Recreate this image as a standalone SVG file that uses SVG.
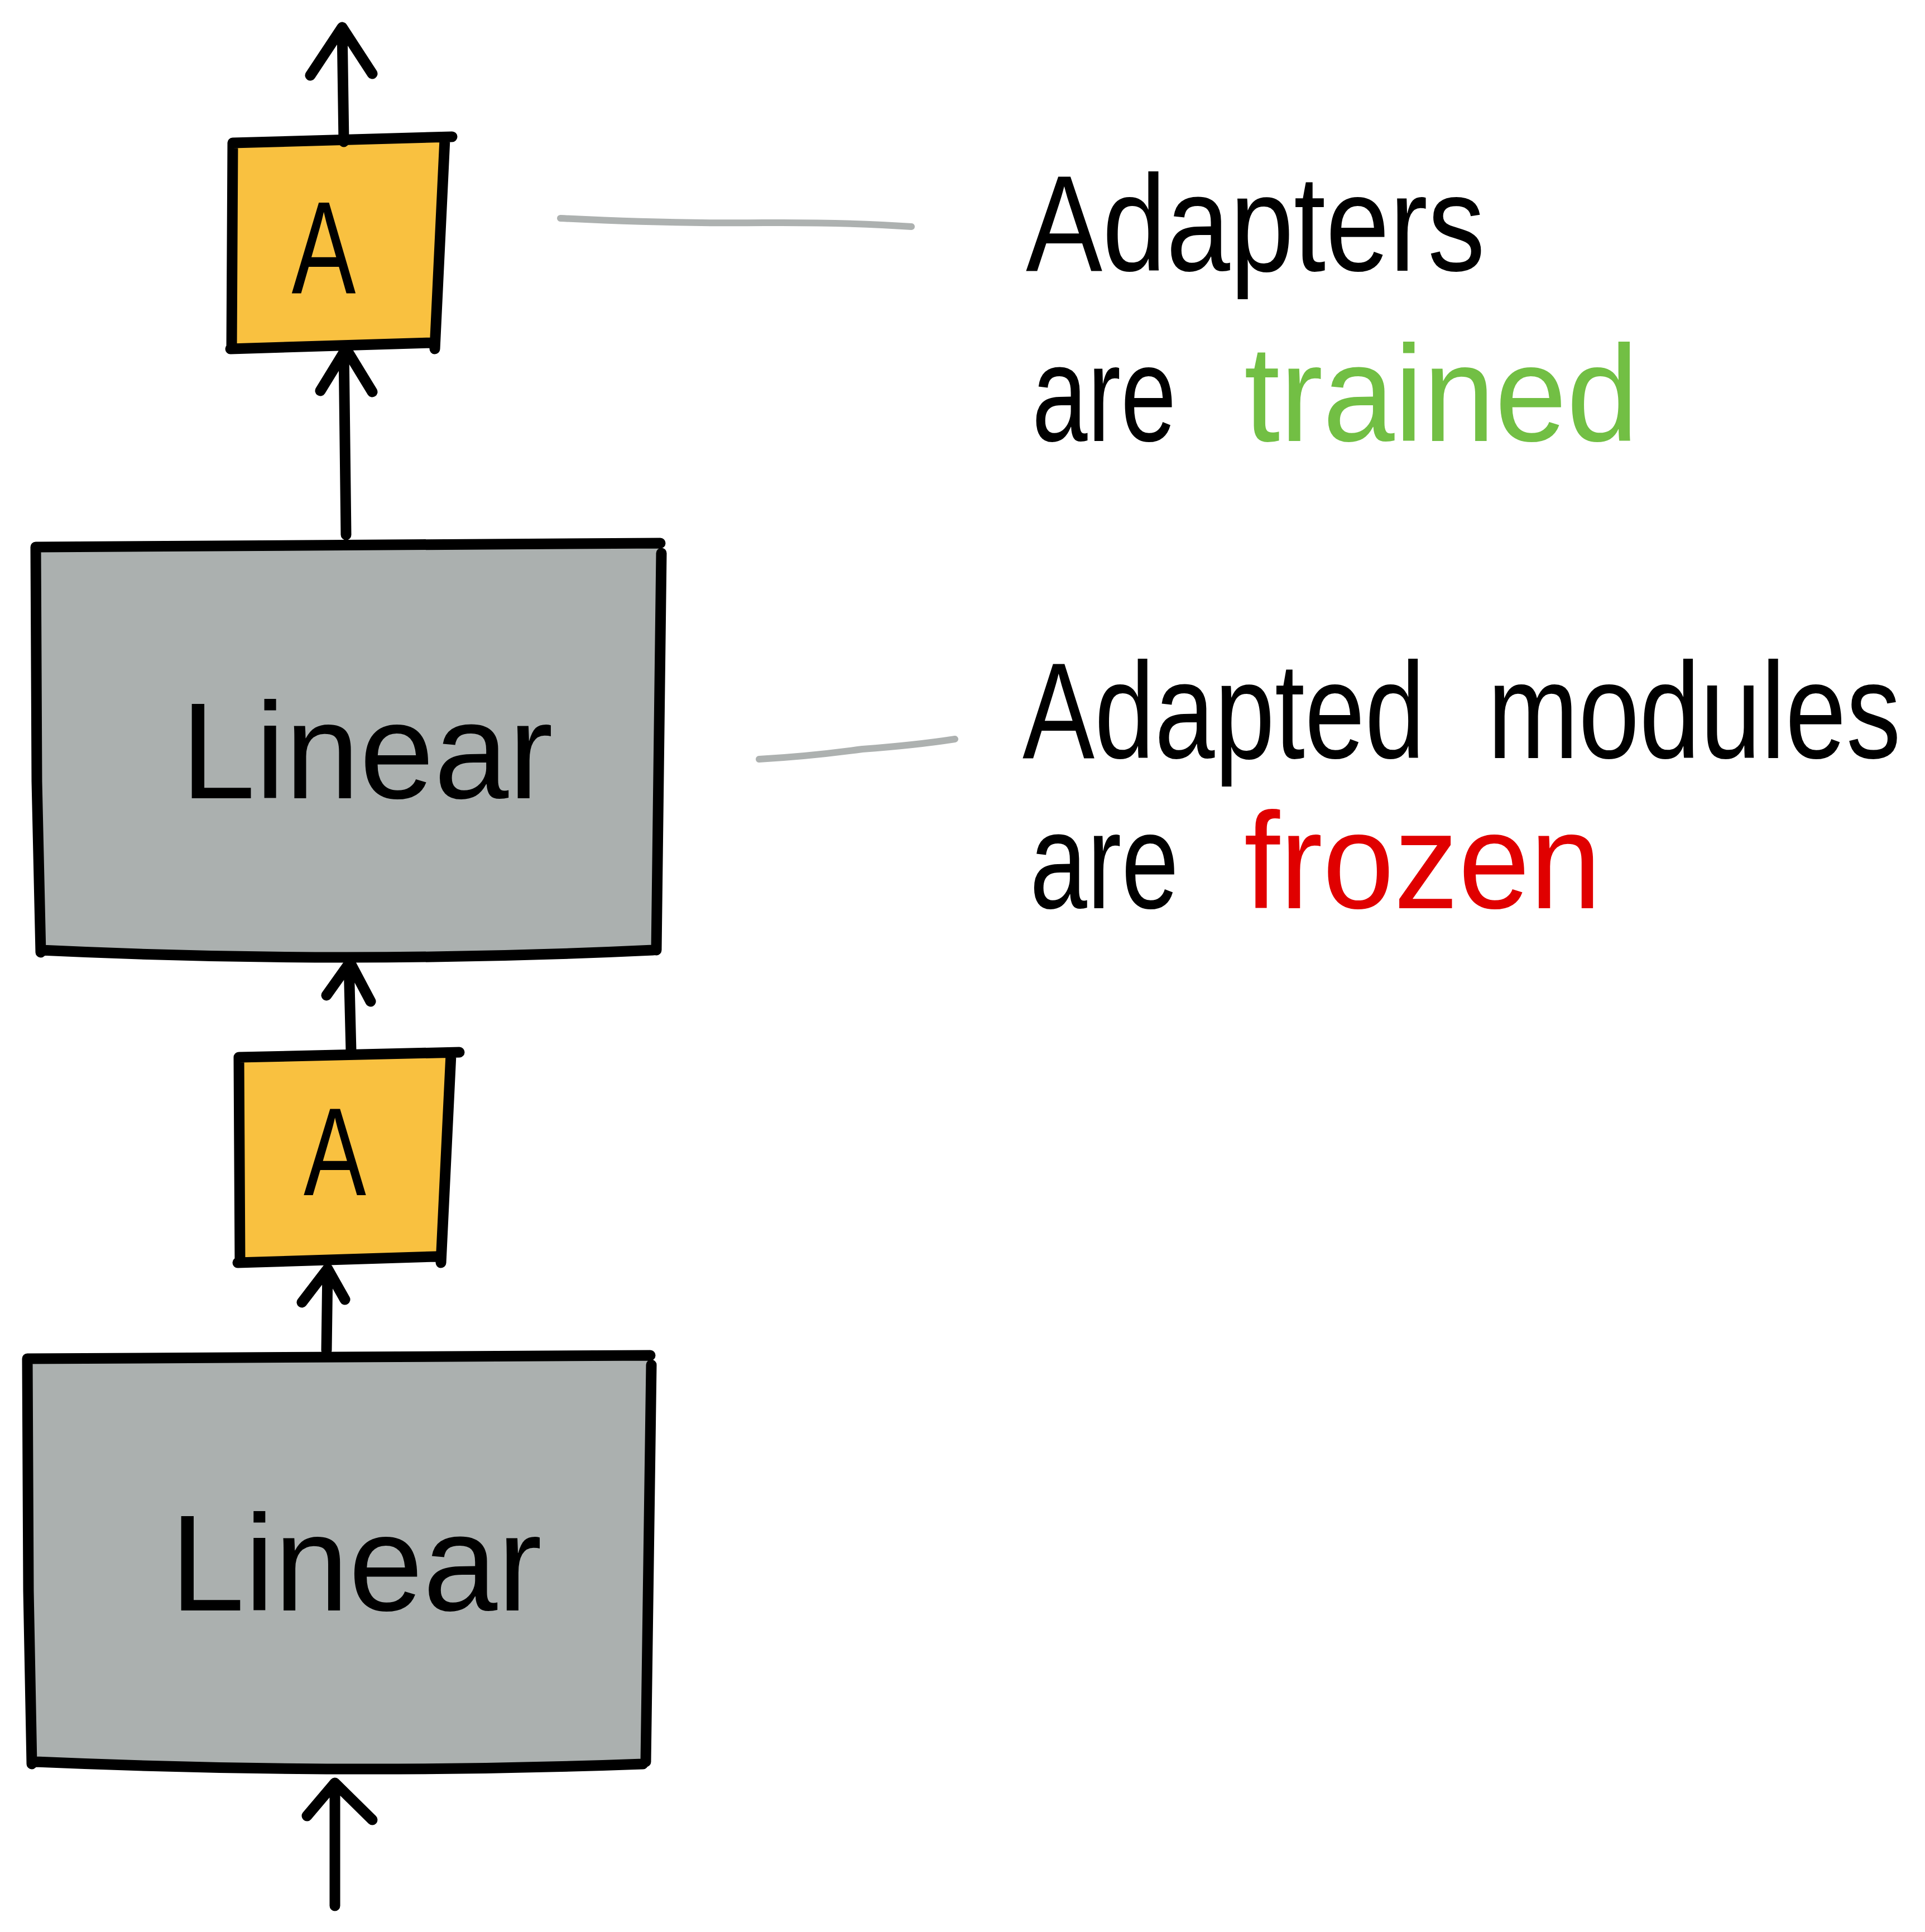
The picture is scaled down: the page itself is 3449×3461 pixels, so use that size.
<svg xmlns="http://www.w3.org/2000/svg" width="3449" height="3461" viewBox="0 0 3449 3461">
<style>
.ink{fill:none;stroke:#000;stroke-width:19;stroke-linecap:round;stroke-linejoin:round}
.lead{fill:none;stroke:#ADB1B0;stroke-width:12;stroke-linecap:round}
.adfill{fill:#F9C140;stroke:none}
.linfill{fill:#ABB0AF;stroke:none}
.t{font-family:"Liberation Sans","DejaVu Sans",sans-serif;fill:#000;font-size:245px}
.green{fill:#72BF44}
.red{fill:#E00000}
</style>
<rect x="0" y="0" width="3449" height="3461" fill="#fff"/>
<g id="adapter-top">
<path class="adfill" d="M417,256 L797,249 L779,618 L415,624 Z"/>
<path class="ink" d="M417,256 L810,245 M797,249 L779,625 M413,625 L772,614 M417,256 L415,625"/>
<text class="t" x="580" y="525" style="font-size:235px" text-anchor="middle" textLength="115" lengthAdjust="spacingAndGlyphs">A</text>
</g>
<g id="linear-top">
<path class="linfill" d="M64,980 L1185,975 L1176,1702 Q620,1728 73,1706 Z"/>
<path class="ink" d="M64,980 L1183,973 M1185,991 L1176,1702 M73,1702 Q620,1728 1170,1702 M64,980 L66,1400 L73,1706"/>
<text class="t" x="324" y="1430" textLength="667" lengthAdjust="spacingAndGlyphs">Linear</text>
</g>
<g id="adapter-bottom">
<path class="adfill" d="M428,1894 L808,1889 L790,2255 L428,2262 Z"/>
<path class="ink" d="M428,1894 L823,1885 M808,1889 L790,2262 M426,2262 L781,2251 M428,1894 L430,2262"/>
<text class="t" x="600" y="2141" style="font-size:225px" text-anchor="middle" textLength="112" lengthAdjust="spacingAndGlyphs">A</text>
</g>
<g id="linear-bottom">
<path class="linfill" d="M49,2434 L1167,2430 L1157,3158 Q618,3182 57,3160 Z"/>
<path class="ink" d="M49,2434 L1165,2428 M1167,2445 L1157,3156 M64,3156 Q618,3180 1152,3160 M49,2434 L51,2850 L57,3160"/>
<text class="t" x="305" y="2885" textLength="666" lengthAdjust="spacingAndGlyphs">Linear</text>
</g>
<g id="connectors">
<path class="ink" d="M600,3414 L600,3194 M550,3253 L600,3194 L667,3260"/>
<path class="ink" d="M585,2419 L587,2273 M541,2333 L587,2273 L618,2328"/>
<path class="ink" d="M629,1883 L625,1724 M585,1783 L627,1724 L664,1794"/>
<path class="ink" d="M620,958 L616,625 M574,700 L620,625 L667,702"/>
<path class="ink" d="M616,254 L613,49 M556,135 L613,49 L667,132"/>
<path class="lead" d="M1004,391 Q1200,401 1368,399 Q1520,398 1633,406"/>
<path class="lead" d="M1360,1360 Q1450,1355 1545,1342 Q1640,1335 1711,1324"/>
</g>
<g id="label-adapters">
<text class="t" transform="translate(1838,485) scale(0.839,1)">Adapters</text>
<text class="t" transform="translate(1849,790) scale(0.73,1)">are</text>
<text class="t green" transform="translate(2229,790) scale(0.943,1)">trained</text>
</g>
<g id="label-adapted">
<text class="t" transform="translate(1832,1358) scale(0.79,1)">Adapted</text>
<text class="t" transform="translate(2665,1358) scale(0.8,1)">modules</text>
<text class="t" transform="translate(1845,1627) scale(0.754,1)">are</text>
<text class="t red" transform="translate(2229,1627) scale(0.94,1)">frozen</text>
</g>
</svg>
